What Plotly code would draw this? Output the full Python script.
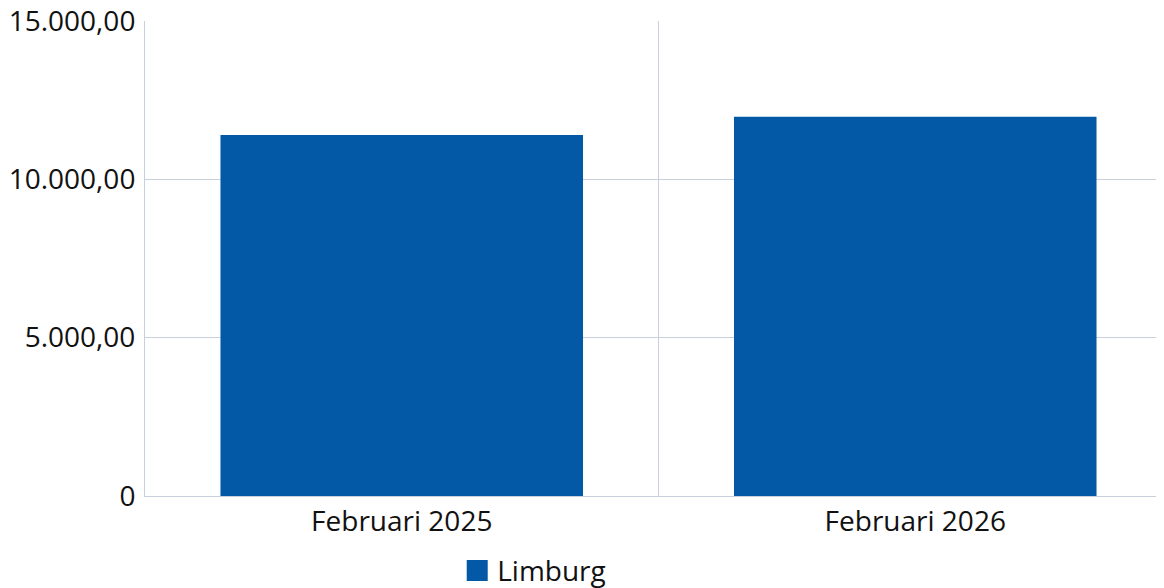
import plotly.graph_objects as go

categories = ["Februari 2025", "Februari 2026"]
values = [11400, 11980]
series_name = "Limburg"
tick_vals = [0, 5000, 10000, 15000]
tick_text = ["0", "5.000,00", "10.000,00", "15.000,00"]

bar_color = "#0359a5"

fig = go.Figure()
fig.add_trace(go.Bar(x=categories, y=values, name=series_name,
                     marker=dict(color=bar_color, line=dict(width=0)),
                     showlegend=False))
# legend entry only, so the swatch can be a bit bigger than the default bar swatch
fig.add_trace(go.Scatter(x=[categories[0]], y=[None], mode="markers", name=series_name,
                         marker=dict(symbol="square", size=16, color=bar_color,
                                     line=dict(width=5, color=bar_color)),
                         hoverinfo="skip", showlegend=True))

# the page body has an 8px margin, so the figure is shifted by 8px
fig.update_layout(
    width=1164, height=580,
    margin=dict(l=137, r=0, t=13, b=92, autoexpand=False),
    paper_bgcolor="white", plot_bgcolor="white",
    font=dict(family="Open Sans, Noto Sans, sans-serif", size=28, color="#111111"),
    bargap=0.294,
    showlegend=True,
    legend=dict(orientation="h", x=0.304, xanchor="left", y=-0.105, yanchor="top",
                font=dict(size=28), bgcolor="rgba(0,0,0,0)", itemsizing="trace"),
)
fig.update_xaxes(showgrid=True, gridcolor="#c8d0dd", gridwidth=1, tickson="boundaries",
                 ticks="", showline=True, linecolor="#c8d0dd", linewidth=1,
                 tickfont=dict(size=28), ticklabelstandoff=0, automargin=False,
                 ticklabeloverflow="allow")
fig.update_yaxes(range=[0, 15000], tickvals=tick_vals, ticktext=tick_text,
                 showgrid=True, gridcolor="#c8d0dd", gridwidth=1, zeroline=False,
                 showline=True, linecolor="#c8d0dd", linewidth=1, ticks="",
                 tickfont=dict(size=28), ticklabelstandoff=3, automargin=False,
                 ticklabeloverflow="allow")

fig.write_html("out.html")
